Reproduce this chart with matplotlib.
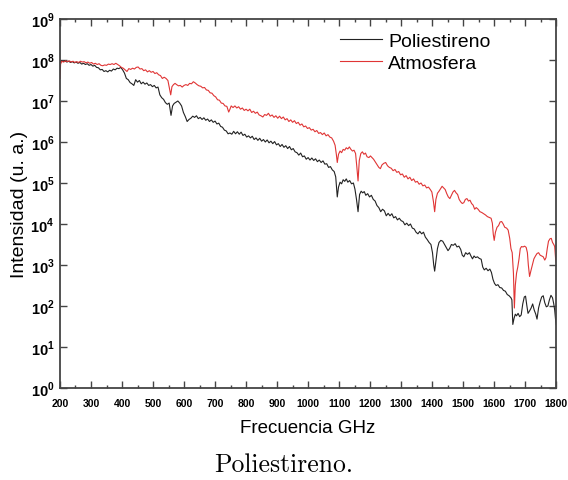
import numpy as np
import matplotlib
matplotlib.use("Agg")
import matplotlib.pyplot as plt
from matplotlib.ticker import MultipleLocator, FixedLocator, NullLocator, FixedFormatter

plt.rcParams["font.family"] = ["Liberation Sans", "DejaVu Sans"]
plt.rcParams["mathtext.fontset"] = "custom"
plt.rcParams["mathtext.rm"] = "Liberation Sans:bold"
plt.rcParams["mathtext.bf"] = "Liberation Sans:bold"

# (frequency GHz, log10 intensity)
poli = [
    (200, 7.93), (204, 7.98), (210, 7.96), (216, 7.98), (222, 7.95), (228, 7.97), (234, 7.94), (240, 7.96),
    (246, 7.93), (252, 7.95), (258, 7.92), (264, 7.94), (270, 7.90), (276, 7.92), (282, 7.89), (288, 7.91),
    (294, 7.87), (300, 7.89), (306, 7.85), (312, 7.87), (318, 7.82), (324, 7.81), (330, 7.76), (336, 7.77),
    (342, 7.72), (348, 7.74), (354, 7.71), (360, 7.75), (366, 7.73), (372, 7.78), (378, 7.76), (384, 7.80),
    (390, 7.79), (396, 7.82), (402, 7.76), (408, 7.68), (414, 7.55), (420, 7.52), (426, 7.45), (432, 7.42),
    (438, 7.38), (444, 7.52), (450, 7.46), (456, 7.50), (462, 7.42), (468, 7.46), (474, 7.41), (480, 7.44),
    (486, 7.38), (492, 7.40), (498, 7.35), (504, 7.38), (510, 7.32), (516, 7.34), (522, 7.15), (528, 7.08),
    (534, 7.04), (540, 6.96), (546, 6.92), (552, 6.95), (558, 6.65), (563, 6.88), (568, 6.94), (574, 6.97),
    (580, 7.00), (586, 6.95), (592, 6.88), (598, 6.72), (604, 6.62), (610, 6.50), (616, 6.55), (622, 6.58),
    (628, 6.63), (634, 6.60), (640, 6.64), (646, 6.57), (652, 6.60), (658, 6.55), (664, 6.59), (670, 6.53),
    (676, 6.56), (682, 6.50), (688, 6.54), (694, 6.48), (700, 6.51), (706, 6.44), (712, 6.46), (718, 6.38),
    (724, 6.36), (730, 6.29), (736, 6.27), (742, 6.20), (748, 6.22), (754, 6.19), (760, 6.26), (766, 6.20),
    (772, 6.25), (778, 6.19), (784, 6.24), (790, 6.16), (796, 6.19), (802, 6.12), (808, 6.15), (814, 6.10),
    (820, 6.14), (826, 6.06), (832, 6.10), (838, 6.04), (844, 6.09), (850, 6.02), (856, 6.06), (862, 6.00),
    (868, 6.05), (874, 5.98), (880, 6.02), (886, 5.96), (892, 6.01), (898, 5.93), (904, 5.96), (910, 5.89),
    (916, 5.94), (922, 5.87), (928, 5.91), (934, 5.84), (940, 5.89), (946, 5.81), (952, 5.84), (958, 5.76),
    (964, 5.74), (970, 5.68), (976, 5.73), (982, 5.64), (988, 5.66), (994, 5.58), (1000, 5.62), (1006, 5.56),
    (1012, 5.61), (1018, 5.55), (1024, 5.59), (1030, 5.52), (1036, 5.56), (1042, 5.50), (1048, 5.54),
    (1054, 5.46), (1060, 5.47), (1066, 5.38), (1072, 5.40), (1078, 5.32), (1084, 5.28), (1089, 5.15),
    (1094, 4.66), (1098, 4.90), (1103, 5.02), (1108, 4.98), (1113, 5.08), (1118, 5.04), (1123, 5.10),
    (1128, 5.02), (1134, 5.06), (1140, 4.98), (1146, 5.00), (1151, 4.85), (1156, 4.60), (1161, 4.30),
    (1166, 4.72), (1171, 4.80), (1176, 4.76), (1181, 4.79), (1186, 4.70), (1192, 4.74), (1198, 4.66),
    (1204, 4.70), (1210, 4.60), (1216, 4.56), (1222, 4.45), (1228, 4.40), (1234, 4.30), (1240, 4.36),
    (1246, 4.32), (1252, 4.20), (1258, 4.26), (1264, 4.20), (1270, 4.25), (1276, 4.15), (1282, 4.18),
    (1288, 4.10), (1294, 4.14), (1300, 4.08), (1306, 4.06), (1312, 3.98), (1318, 4.02), (1324, 3.96),
    (1330, 4.00), (1336, 3.90), (1342, 3.88), (1348, 3.80), (1354, 3.76), (1360, 3.82), (1366, 3.76),
    (1372, 3.80), (1378, 3.68), (1384, 3.62), (1390, 3.55), (1396, 3.50), (1401, 3.30), (1405, 3.00),
    (1408, 2.85), (1412, 3.10), (1417, 3.40), (1422, 3.55), (1428, 3.60), (1434, 3.58), (1440, 3.50),
    (1446, 3.42), (1451, 3.35), (1456, 3.40), (1462, 3.50), (1468, 3.48), (1474, 3.52), (1480, 3.44),
    (1486, 3.46), (1492, 3.38), (1497, 3.24), (1502, 3.20), (1508, 3.30), (1514, 3.26), (1520, 3.30),
    (1525, 3.22), (1530, 3.15), (1535, 3.22), (1540, 3.18), (1546, 3.20), (1552, 3.16), (1558, 3.14),
    (1563, 2.95), (1568, 2.88), (1574, 2.92), (1580, 2.86), (1586, 2.90), (1591, 2.82), (1596, 2.65),
    (1601, 2.55), (1606, 2.50), (1612, 2.52), (1618, 2.45), (1624, 2.44), (1630, 2.38), (1636, 2.36),
    (1642, 2.28), (1648, 2.25), (1654, 2.20), (1657, 2.15), (1660, 1.55), (1664, 1.70), (1668, 1.80),
    (1672, 1.76), (1677, 1.82), (1682, 1.74), (1687, 1.78), (1692, 2.05), (1697, 2.22), (1701, 2.24),
    (1705, 2.02), (1709, 1.82), (1714, 1.88), (1719, 1.95), (1724, 2.05), (1729, 1.90), (1734, 1.80),
    (1738, 1.68), (1743, 1.95), (1748, 2.10), (1753, 2.22), (1758, 2.25), (1763, 2.08), (1768, 1.98),
    (1773, 2.00), (1778, 2.15), (1783, 2.26), (1788, 2.20), (1792, 2.05), (1795, 1.90), (1798, 1.65),
    (1800, 1.55),
]

atmo = [
    (200, 7.55), (202, 7.90), (206, 7.97), (212, 7.95), (218, 7.98), (224, 7.96), (230, 7.98), (236, 7.95),
    (242, 7.97), (248, 7.94), (254, 7.96), (260, 7.94), (266, 7.97), (272, 7.95), (278, 7.96), (284, 7.93),
    (290, 7.95), (296, 7.92), (302, 7.94), (308, 7.90), (314, 7.92), (320, 7.89), (326, 7.91), (332, 7.87),
    (338, 7.86), (344, 7.88), (350, 7.87), (356, 7.90), (362, 7.89), (368, 7.91), (374, 7.89), (380, 7.92),
    (386, 7.89), (392, 7.86), (398, 7.82), (404, 7.80), (410, 7.76), (416, 7.72), (422, 7.79), (428, 7.77),
    (434, 7.80), (440, 7.78), (446, 7.82), (452, 7.83), (458, 7.78), (464, 7.79), (470, 7.74), (476, 7.76),
    (482, 7.71), (488, 7.74), (494, 7.70), (500, 7.72), (506, 7.67), (512, 7.69), (518, 7.64), (524, 7.62),
    (530, 7.55), (536, 7.58), (542, 7.55), (548, 7.50), (553, 7.30), (557, 7.15), (561, 7.35), (566, 7.40),
    (571, 7.43), (576, 7.40), (582, 7.37), (588, 7.38), (594, 7.34), (600, 7.38), (606, 7.40), (612, 7.38),
    (618, 7.43), (624, 7.42), (630, 7.47), (636, 7.44), (642, 7.40), (648, 7.37), (654, 7.36), (660, 7.32),
    (666, 7.33), (672, 7.27), (678, 7.26), (684, 7.20), (690, 7.19), (696, 7.13), (702, 7.10), (708, 7.03),
    (714, 7.02), (720, 6.95), (726, 6.94), (732, 6.88), (738, 6.87), (744, 6.73), (748, 6.80), (752, 6.88),
    (758, 6.84), (764, 6.88), (770, 6.83), (776, 6.86), (782, 6.80), (788, 6.83), (794, 6.77), (800, 6.80),
    (806, 6.76), (812, 6.80), (818, 6.72), (824, 6.75), (830, 6.70), (836, 6.73), (842, 6.66), (848, 6.64),
    (854, 6.61), (860, 6.67), (866, 6.65), (872, 6.70), (878, 6.63), (884, 6.66), (890, 6.60), (896, 6.64),
    (902, 6.58), (908, 6.63), (914, 6.57), (920, 6.61), (926, 6.54), (932, 6.57), (938, 6.50), (944, 6.54),
    (950, 6.48), (956, 6.52), (962, 6.45), (968, 6.48), (974, 6.41), (980, 6.44), (986, 6.37), (992, 6.39),
    (998, 6.33), (1004, 6.35), (1010, 6.29), (1016, 6.31), (1022, 6.25), (1028, 6.28), (1034, 6.21),
    (1040, 6.23), (1046, 6.18), (1052, 6.22), (1058, 6.15), (1064, 6.18), (1070, 6.12), (1076, 6.10),
    (1082, 6.02), (1087, 5.92), (1091, 5.70), (1094, 5.50), (1098, 5.70), (1103, 5.78), (1108, 5.74),
    (1113, 5.82), (1118, 5.80), (1123, 5.86), (1128, 5.83), (1133, 5.88), (1138, 5.82), (1143, 5.78),
    (1148, 5.80), (1153, 5.72), (1157, 5.40), (1161, 5.05), (1165, 5.55), (1170, 5.72), (1175, 5.76),
    (1180, 5.70), (1185, 5.73), (1190, 5.64), (1196, 5.62), (1201, 5.66), (1206, 5.62), (1211, 5.58),
    (1216, 5.52), (1222, 5.45), (1228, 5.38), (1233, 5.35), (1238, 5.44), (1244, 5.48), (1250, 5.50),
    (1256, 5.42), (1262, 5.38), (1268, 5.36), (1274, 5.30), (1280, 5.33), (1286, 5.26), (1292, 5.28),
    (1298, 5.20), (1304, 5.22), (1310, 5.14), (1316, 5.18), (1322, 5.10), (1328, 5.14), (1334, 5.06),
    (1340, 5.10), (1346, 5.02), (1352, 5.04), (1358, 4.97), (1364, 5.00), (1370, 4.93), (1376, 4.95),
    (1382, 4.88), (1388, 4.90), (1394, 4.84), (1399, 4.78), (1404, 4.55), (1408, 4.30), (1412, 4.60),
    (1417, 4.75), (1422, 4.80), (1427, 4.86), (1432, 4.92), (1437, 4.88), (1442, 4.84), (1447, 4.74),
    (1452, 4.66), (1457, 4.62), (1462, 4.70), (1467, 4.78), (1472, 4.82), (1477, 4.76), (1482, 4.72),
    (1487, 4.60), (1492, 4.54), (1497, 4.50), (1502, 4.52), (1507, 4.60), (1512, 4.62), (1517, 4.56),
    (1522, 4.58), (1527, 4.50), (1532, 4.46), (1537, 4.36), (1542, 4.40), (1548, 4.36), (1554, 4.30),
    (1560, 4.28), (1566, 4.25), (1572, 4.22), (1578, 4.18), (1584, 4.16), (1590, 4.14), (1594, 4.02),
    (1597, 3.75), (1600, 3.60), (1604, 3.80), (1609, 3.92), (1614, 3.96), (1619, 4.05), (1624, 4.06),
    (1629, 4.00), (1634, 3.92), (1640, 3.90), (1645, 3.85), (1650, 3.65), (1654, 3.40), (1658, 3.30),
    (1662, 2.80), (1665, 1.95), (1668, 2.50), (1672, 2.80), (1676, 2.95), (1680, 3.15), (1684, 3.40),
    (1688, 3.45), (1693, 3.44), (1698, 3.46), (1703, 3.43), (1707, 3.30), (1710, 3.00), (1714, 2.72),
    (1718, 2.85), (1723, 3.00), (1728, 3.15), (1733, 3.22), (1738, 3.28), (1743, 3.30), (1748, 3.24),
    (1753, 3.22), (1758, 3.20), (1763, 3.12), (1767, 3.18), (1771, 3.40), (1775, 3.58), (1780, 3.64),
    (1784, 3.65), (1788, 3.55), (1792, 3.50), (1795, 3.45), (1798, 3.15), (1800, 3.07),
]

x_ticks = list(range(200, 1801, 100))
y_exponents = list(range(0, 10))

poli_freq, poli_log = np.array(poli).T
atmo_freq, atmo_log = np.array(atmo).T

fig = plt.figure(figsize=(5.68, 4.81), dpi=100)
ax = fig.add_axes([0.1056, 0.1913, 0.8737, 0.7671])

ax.plot(poli_freq, 10.0 ** poli_log, color="#222222", linewidth=0.8, label="Poliestireno")
ax.plot(atmo_freq, 10.0 ** atmo_log, color="#e03535", linewidth=0.8, label="Atmosfera")

ax.set_yscale("log")
ax.set_xlim(200, 1800)
ax.set_ylim(1, 1e9)

ax.xaxis.set_major_locator(FixedLocator(x_ticks))
ax.xaxis.set_minor_locator(MultipleLocator(50))
ax.set_xticklabels([str(t) for t in x_ticks], fontsize=7.5, fontweight="bold")

ax.yaxis.set_major_locator(FixedLocator([10.0 ** e for e in y_exponents]))
ax.yaxis.set_minor_locator(NullLocator())
ax.yaxis.set_major_formatter(FixedFormatter([r"$10^{%d}$" % e for e in y_exponents]))
for lab in ax.get_yticklabels():
    lab.set_fontsize(10.5)

ax.tick_params(which="both", direction="in", top=True, right=True, color="#444444")
ax.tick_params(which="major", length=5, width=1)
ax.tick_params(which="minor", length=2.5, width=1)
ax.tick_params(axis="x", pad=7)
ax.tick_params(axis="y", pad=4)
for sp in ax.spines.values():
    sp.set_color("#444444")
    sp.set_linewidth(1.3)

ax.set_xlabel("Frecuencia GHz", fontsize=13.5, labelpad=8)
ax.set_ylabel("Intensidad (u. a.)", fontsize=14, labelpad=2)

ax.legend(loc="upper left", bbox_to_anchor=(0.565, 0.965), frameon=False, fontsize=14,
          handlelength=2.15, handletextpad=0.3, labelspacing=0.25, borderpad=0, borderaxespad=0)

fig.text(0.5, 0.033, "Poliestireno.", family="cmr10", fontsize=18.5, ha="center", va="center")

fig.savefig("out.png", dpi=100)
